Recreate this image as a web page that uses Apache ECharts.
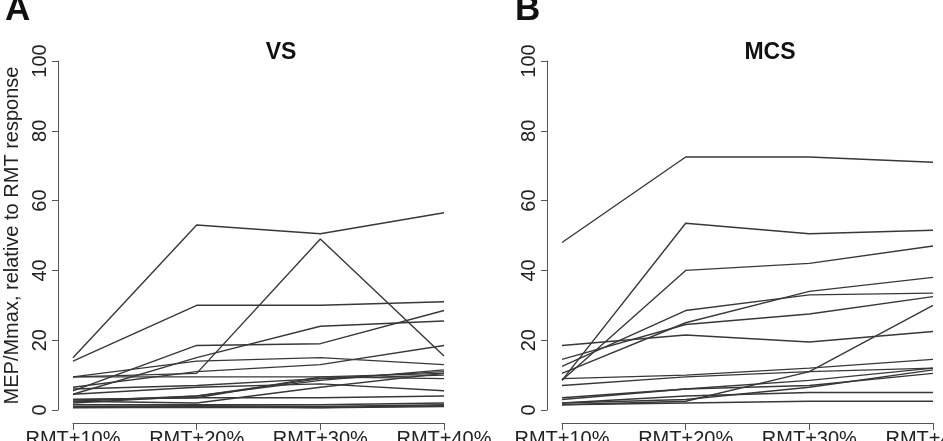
<!DOCTYPE html>
<html>
<head>
<meta charset="utf-8">
<script src="https://cdn.jsdelivr.net/npm/echarts@6/dist/echarts.min.js"></script>
<style>
  html, body { margin: 0; padding: 0; background: #fff; }
  #chart { width: 943px; height: 441px; }
</style>
</head>
<body>
<div id="chart"></div>
<script>
// stimulation intensities (x axis)
var levels = ['RMT+10%', 'RMT+20%', 'RMT+30%', 'RMT+40%'];

// y axis ticks
var yTicks = [0, 20, 40, 60, 80, 100];

// VS patients, one row per subject (MEP/Mmax at each intensity)
var vsSubjects = [
    [15, 53, 50.5, 56.5],
    [14, 30, 30, 31],
    [9.5, 10.5, 49, 15.5],
    [5.5, 18.5, 19, 28.5],
    [4.5, 15, 24, 25.5],
    [9.5, 14, 15, 13],
    [6.5, 11, 13, 18.5],
    [9.5, 9.5, 9.5, 9],
    [2.5, 4, 8.5, 11.5],
    [3, 3.5, 9.5, 10.5],
    [4.5, 6.5, 7.5, 5.5],
    [3, 3.5, 3.5, 4],
    [2.5, 2, 6.5, 10.5],
    [2, 4, 9, 10],
    [6, 7, 9, 11],
    [1.5, 1.5, 1.5, 2],
    [1, 1.2, 1, 1.5],
    [0.8, 1, 0.7, 1.2],
    [0.6, 0.8, 0.6, 1]
];

// MCS patients
var mcsSubjects = [
    [48, 72.5, 72.5, 71],
    [8.5, 53.5, 50.5, 51.5],
    [8.5, 40, 42, 47],
    [12.5, 28.5, 33, 33.5],
    [10.5, 25, 34, 38],
    [14.5, 24.5, 27.5, 32.5],
    [18.5, 21.5, 19.5, 22.5],
    [1.5, 2.5, 11, 30],
    [9, 10, 12, 14.5],
    [7, 9.5, 11, 12],
    [3.5, 6, 7, 10.5],
    [3, 6, 8.5, 12],
    [2, 4, 5, 5],
    [1.5, 2, 2.5, 2.5],
    [2, 3, 6.5, 11.5]
];

var chart = echarts.init(document.getElementById('chart'));

var axisGray = '#555';
var lineGray = '#383838';
var font = 'Liberation Sans, Arial, sans-serif';

function makeSeries(rows, idx) {
    var out = [];
    for (var i = 0; i < rows.length; i++) {
        out.push({
            type: 'line',
            xAxisIndex: idx,
            yAxisIndex: idx,
            data: rows[i],
            symbol: 'none',
            silent: true,
            lineStyle: { color: lineGray, width: 1.4 }
        });
    }
    return out;
}

function makeX(idx) {
    return {
        type: 'category',
        gridIndex: idx,
        data: levels,
        boundaryGap: false,
        offset: 13,
        axisLine: { show: true, onZero: false, lineStyle: { color: axisGray, width: 1 } },
        axisTick: { show: true, inside: false, length: 7, interval: 0, lineStyle: { color: axisGray } },
        axisLabel: { interval: 0, color: '#222', fontSize: 20, fontFamily: font, margin: 6 },
        splitLine: { show: false }
    };
}

function makeY(idx, name) {
    return {
        type: 'value',
        gridIndex: idx,
        min: 0,
        max: 100,
        interval: 20,
        offset: 15,
        name: name,
        nameLocation: 'middle',
        nameRotate: 90,
        nameGap: 36,
        nameTextStyle: { color: '#222', fontSize: 20, fontFamily: font },
        axisLine: { show: true, onZero: false, lineStyle: { color: axisGray, width: 1 } },
        axisTick: { show: true, length: 6, lineStyle: { color: axisGray } },
        axisLabel: { rotate: 90, color: '#222', fontSize: 20, fontFamily: font, margin: 8 },
        splitLine: { show: false }
    };
}

var option = {
    animation: false,
    backgroundColor: '#fff',
    title: [
        { text: 'A', left: 0, top: -12, textStyle: { fontSize: 35, fontWeight: 'bold', color: '#111', fontFamily: font } },
        { text: 'B', left: 510, top: -12, textStyle: { fontSize: 35, fontWeight: 'bold', color: '#111', fontFamily: font } },
        { text: 'VS', left: 276, top: 36, textAlign: 'center', textStyle: { fontSize: 23, fontWeight: 'bold', color: '#111', fontFamily: font } },
        { text: 'MCS', left: 765, top: 36, textAlign: 'center', textStyle: { fontSize: 23, fontWeight: 'bold', color: '#111', fontFamily: font } }
    ],
    grid: [
        { left: 73, top: 61, width: 371, height: 349, containLabel: false, outerBoundsMode: 'none' },
        { left: 562, top: 61, width: 371, height: 349, containLabel: false, outerBoundsMode: 'none' }
    ],
    xAxis: [makeX(0), makeX(1)],
    yAxis: [makeY(0, 'MEP/Mmax, relative to RMT response'), makeY(1, '')],
    series: makeSeries(vsSubjects, 0).concat(makeSeries(mcsSubjects, 1))
};

chart.setOption(option);
</script>
</body>
</html>
